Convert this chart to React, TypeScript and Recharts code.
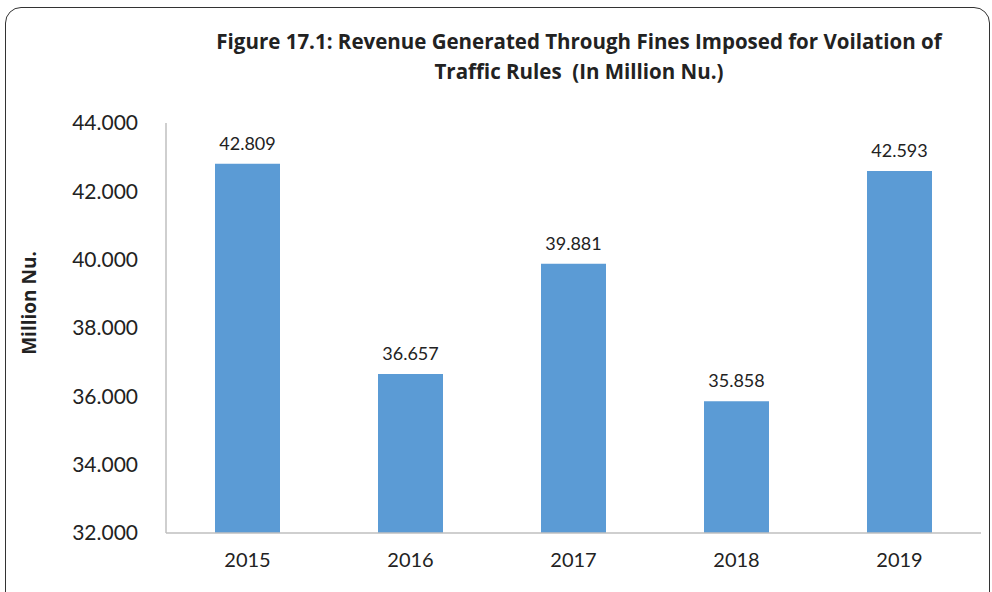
import { BarChart, Bar, XAxis, YAxis, LabelList } from "recharts";

const years = ["2015", "2016", "2017", "2018", "2019"];
const revenue = [42.809, 36.657, 39.881, 35.858, 42.593];
const yTicks = [32, 34, 36, 38, 40, 42, 44];

const data = years.map((year, i) => ({ year, revenue: revenue[i] }));

const FONT = "Lato, 'Open Sans', sans-serif";
const TITLE_FONT = "'Open Sans', Lato, sans-serif";
const INK = "#222";

export default function App() {
  return (
    <div style={{ position: "absolute", left: 0, top: 0, width: 992, height: 592, overflow: "hidden", background: "#fff", fontFamily: FONT }}>
      {/* rounded frame, bottom runs off the picture */}
      <div
        style={{
          position: "absolute",
          left: 5,
          top: 7,
          width: 983,
          height: 620,
          border: "1.5px solid #333",
          borderRadius: 16,
        }}
      />
      <div
        style={{
          position: "absolute",
          left: 179,
          width: 800,
          top: 26,
          textAlign: "center",
          fontFamily: TITLE_FONT,
          fontWeight: 700,
          fontSize: 20.5,
          lineHeight: "30px",
          color: INK,
          whiteSpace: "nowrap",
        }}
      >
        Figure 17.1: Revenue Generated Through Fines Imposed for Voilation of
        <br />
        Traffic Rules&nbsp; (In Million Nu.)
      </div>
      <div
        style={{
          position: "absolute",
          left: 29,
          top: 303,
          transform: "translate(-50%, -50%) rotate(-90deg)",
          fontFamily: TITLE_FONT,
          fontWeight: 700,
          fontSize: 19,
          color: INK,
          whiteSpace: "nowrap",
        }}
      >
        Million Nu.
      </div>
      <BarChart
        width={992}
        height={592}
        data={data}
        margin={{ top: 123, right: 11, bottom: 29, left: 106 }}
        style={{ position: "absolute", left: 0, top: 0 }}
      >
        <XAxis
          dataKey="year"
          height={30}
          tickSize={0}
          tickMargin={20}
          axisLine={{ stroke: "#bfbfbf", strokeWidth: 1.5 }}
          tick={{ fill: INK, fontSize: 20, fontFamily: FONT }}
        />
        <YAxis
          width={60}
          domain={[32, 44]}
          ticks={yTicks}
          interval={0}
          tickSize={0}
          tickMargin={28}
          allowDataOverflow
          axisLine={{ stroke: "#bfbfbf", strokeWidth: 1.5 }}
          tickFormatter={(v: number) => v.toFixed(3)}
          tick={{ fill: INK, fontSize: 21, fontFamily: FONT }}
        />
        <Bar dataKey="revenue" fill="#5b9bd5" barSize={65} isAnimationActive={false}>
          <LabelList
            dataKey="revenue"
            position="top"
            offset={14}
            formatter={(v: number) => v.toFixed(3)}
            style={{ fill: INK, fontSize: 18, fontFamily: FONT }}
          />
        </Bar>
      </BarChart>
    </div>
  );
}
